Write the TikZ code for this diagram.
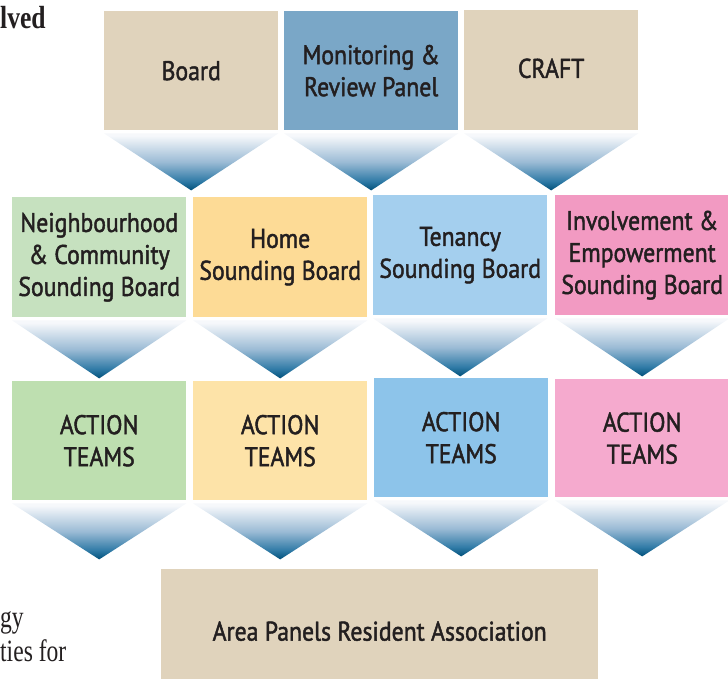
\documentclass[tikz,border=0pt]{standalone}
\usepackage{fontspec}
\newfontfamily\boxfont[FakeStretch=0.88,FakeBold=1.6]{PT Sans}
\newfontfamily\serfont[FakeStretch=0.76]{Liberation Serif}
\newfontfamily\boldser[FakeStretch=0.8]{Liberation Serif Bold}
\definecolor{tan}{HTML}{E0D3BC}
\definecolor{monblue}{HTML}{7AA7C7}
\definecolor{greenA}{HTML}{C6E1BF}
\definecolor{greenB}{HTML}{BEDFB0}
\definecolor{yellowA}{HTML}{FDDB96}
\definecolor{yellowB}{HTML}{FDE3A8}
\definecolor{blueA}{HTML}{A4CFEE}
\definecolor{blueB}{HTML}{8DC4EA}
\definecolor{pinkA}{HTML}{F29AC2}
\definecolor{pinkB}{HTML}{F5AACE}
\definecolor{txt}{HTML}{231F20}
\definecolor{trilt}{HTML}{F6F8FB}
\definecolor{trimd}{HTML}{9BBBD5}
\definecolor{trimd2}{HTML}{2F7AA6}
\definecolor{tridk}{HTML}{00507A}
\pgfdeclareverticalshading{trishade}{100bp}{color(0bp)=(tridk); color(25bp)=(tridk); color(33bp)=(trimd2); color(50bp)=(trimd); color(73bp)=(trilt); color(100bp)=(trilt)}
\tikzset{
  box/.style={anchor=north west, inner sep=0pt, align=center, text=txt,
    font=\boxfont\fontsize{27}{32}\selectfont, minimum width=174pt},
  tri/.style={shading=trishade}
}
\newcommand{\tri}[2]{%
  \shade[tri] ([yshift=-3pt]#1.south west) -- ([yshift=-3pt]#1.south east)
    -- ([yshift=-#2pt]#1.south) -- cycle;}
\begin{document}
\begin{tikzpicture}[x=1pt,y=-1pt]
\useasboundingbox (0,0) rectangle (728,679);
% row 1
\node[box, fill=tan, minimum height=119pt] (board) at (104,11) {Board};
\node[box, fill=monblue, minimum height=119pt] (mon) at (284,11) {Monitoring \&\\Review Panel};
\node[box, fill=tan, minimum height=120pt, text depth=4pt] (craft) at (464,10) {CRAFT};
% row 2
\node[box, fill=greenA, minimum height=120pt] (nbh) at (12,197) {Neighbourhood\\\& Community\\Sounding Board};
\node[box, fill=yellowA, minimum height=120pt] (home) at (193,197) {Home\\Sounding Board};
\node[box, fill=blueA, minimum height=120pt] (ten) at (373,195) {Tenancy\\Sounding Board};
\node[box, fill=pinkA, minimum height=120pt] (inv) at (555,195) {Involvement \&\\Empowerment\\Sounding Board};
% row 3
\node[box, fill=greenB, minimum height=119pt] (act1) at (12,381) {ACTION\\TEAMS};
\node[box, fill=yellowB, minimum height=119pt] (act2) at (193,381) {ACTION\\TEAMS};
\node[box, fill=blueB, minimum height=119pt] (act3) at (374,378) {ACTION\\TEAMS};
\node[box, fill=pinkB, minimum height=118pt] (act4) at (555,379) {ACTION\\TEAMS};
% bottom
\node[box, fill=tan, minimum width=437pt, minimum height=124pt] (area) at (161,569) {Area Panels Resident Association};
% triangles
\tri{board}{60}\tri{mon}{60}\tri{craft}{60}
\tri{nbh}{61}\tri{home}{61}\tri{ten}{61}\tri{inv}{61}
\tri{act1}{59}\tri{act2}{59}\tri{act3}{59}\tri{act4}{59}
% side text fragments
\node[anchor=base west, inner sep=0pt, text=txt, font=\boldser\fontsize{32}{34}\selectfont] (lved) at (0,29) {lved};
\node[anchor=base west, inner sep=0pt, text=txt, font=\serfont\fontsize{31}{34}\selectfont, align=left] (side) at (0,661) {gy\\ties for};
\end{tikzpicture}
\end{document}
